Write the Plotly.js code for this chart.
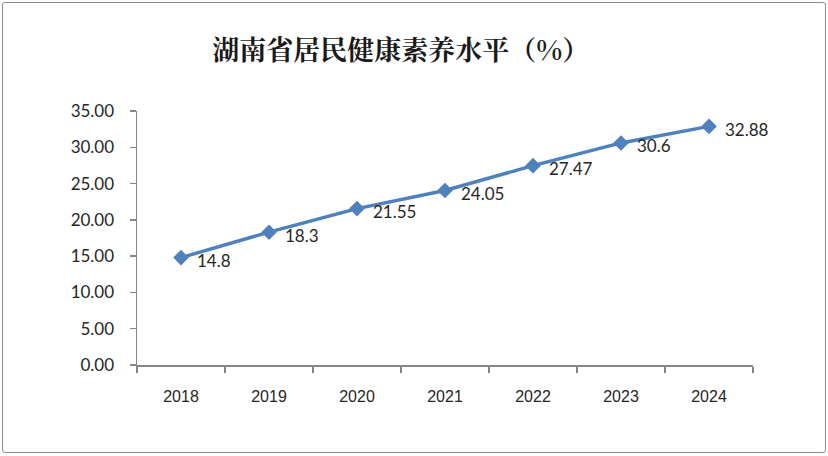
<!DOCTYPE html>
<html>
<head>
<meta charset="utf-8">
<script src="https://cdn.plot.ly/plotly-3.0.1.min.js"></script>
<style>
  html, body { margin: 0; padding: 0; background: #fff; }
  #wrap { position: relative; width: 828px; height: 456px; }
  #chart { width: 828px; height: 456px; }
  #frame { position: absolute; left: 2px; top: 2px; width: 822px; height: 449px;
           border: 1.5px solid #8c8c8c; border-radius: 3px; pointer-events: none; }
</style>
</head>
<body>
<div id="wrap">
  <div id="chart"></div>
  <div id="frame"></div>
</div>
<script>
const years = ["2018", "2019", "2020", "2021", "2022", "2023", "2024"];
const values = [14.8, 18.3, 21.55, 24.05, 27.47, 30.6, 32.88];
const valueLabels = ["14.8", "18.3", "21.55", "24.05", "27.47", "30.6", "32.88"];
const yTicks = [0, 5, 10, 15, 20, 25, 30, 35];
const titleText = "湖南省居民健康素养水平（%）";

const lineColor = "#4F81BD";
const labelFont = "Lato, 'Liberation Sans', sans-serif";

const trace = {
  type: "scatter",
  mode: "lines+markers",
  x: years,
  y: values,
  line: { color: lineColor, width: 3.5 },
  marker: { symbol: "diamond", size: 12, color: lineColor },
  hoverinfo: "x+y",
  showlegend: false
};

const annotations = values.map((v, i) => ({
  x: i, y: v, xref: "x", yref: "y",
  text: valueLabels[i], showarrow: false,
  xanchor: "left", yanchor: "middle",
  xshift: 14, yshift: -3,
  font: { family: labelFont, size: 17, color: "#262626" }
}));

const layout = {
  width: 828, height: 456,
  margin: { l: 137, r: 75, t: 111, b: 91 },
  paper_bgcolor: "#ffffff",
  plot_bgcolor: "#ffffff",
  title: {
    text: titleText,
    x: 0.484, xanchor: "center", xref: "container",
    y: 0.89, yanchor: "middle", yref: "container",
    font: { family: "'Noto Serif CJK SC', 'Noto Sans CJK SC', serif", size: 27, color: "#1a1a1a", weight: "bold" }
  },
  xaxis: {
    type: "category",
    range: [-0.5, 6.5],
    showline: true, linecolor: "#868686", linewidth: 1.5,
    ticks: "outside", ticklen: 6, tickcolor: "#868686", tickwidth: 1.5,
    tickson: "boundaries",
    showgrid: false, zeroline: false,
    tickfont: { family: "'Liberation Sans Narrow', 'Liberation Sans', sans-serif", size: 16, color: "#262626" },
    ticklabelstandoff: 16
  },
  yaxis: {
    range: [0, 35],
    tickvals: yTicks,
    tickformat: ".2f",
    showline: true, linecolor: "#868686", linewidth: 1.5,
    ticks: "outside", ticklen: 6, tickcolor: "#868686", tickwidth: 1.5,
    showgrid: false, zeroline: false,
    tickfont: { family: labelFont, size: 17, color: "#262626" },
    ticklabelstandoff: 12
  },
  annotations: annotations
};

Plotly.newPlot("chart", [trace], layout, { displayModeBar: false, staticPlot: true });
</script>
</body>
</html>
